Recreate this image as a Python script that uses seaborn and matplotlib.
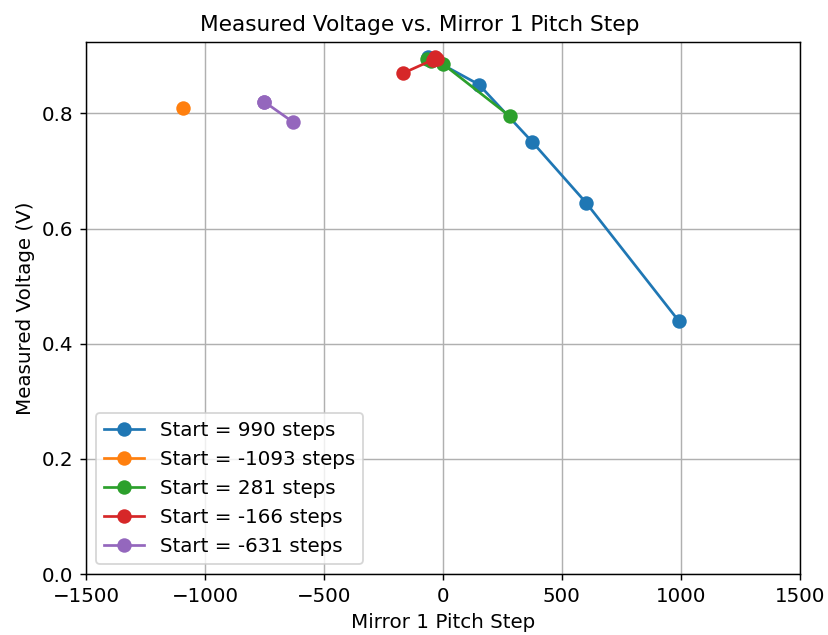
import matplotlib
matplotlib.use("Agg")
import matplotlib.pyplot as plt
import seaborn as sns
import pandas as pd

labels = ["Start = 990 steps", "Start = -1093 steps", "Start = 281 steps",
          "Start = -166 steps", "Start = -631 steps"]
x_990 = [990, 601, 376, 151, -62]
y_990 = [0.440, 0.645, 0.750, 0.850, 0.898]
x_m1093 = [-1093]
y_m1093 = [0.810]
x_281 = [281, 2, -50, -66]
y_281 = [0.795, 0.885, 0.890, 0.895]
x_m166 = [-166, -42, -32, -24]
y_m166 = [0.870, 0.893, 0.898, 0.895]
x_m631 = [-631, -751, -751]
y_m631 = [0.785, 0.820, 0.820]

series = [(x_990, y_990), (x_m1093, y_m1093), (x_281, y_281),
          (x_m166, y_m166), (x_m631, y_m631)]
rows = []
for lab, (xs, ys) in zip(labels, series):
    for i, (a, b) in enumerate(zip(xs, ys)):
        rows.append({"step": a, "volt": b, "series": lab, "order": i})
df = pd.DataFrame(rows)

plt.rcParams['font.family'] = ['DejaVu Sans']
plt.rcParams['font.size'] = 11
fig = plt.figure(figsize=(828/130, 635/130), dpi=130)
ax = fig.add_axes([0.104, 0.096, 0.862, 0.838])
colors = ["#1f77b4", "#ff7f0e", "#2ca02c", "#d62728", "#9467bd"]
for lab, c in zip(labels, colors):
    d = df[df.series == lab]
    sns.lineplot(data=d, x="step", y="volt", ax=ax, color=c, marker="o",
                 markersize=8, markeredgewidth=0, linewidth=1.5, sort=False,
                 estimator=None, label=lab)
ax.set_xlim(-1500, 1500)
ax.set_ylim(0, 0.924)
ax.set_xticks([-1500, -1000, -500, 0, 500, 1000, 1500])
ax.set_yticks([0.0, 0.2, 0.4, 0.6, 0.8])
ax.tick_params(labelsize=11)
ax.grid(True, color="#b0b0b0", linewidth=0.8)
ax.set_axisbelow(True)
ax.set_xlabel("Mirror 1 Pitch Step", fontsize=11)
ax.set_ylabel("Measured Voltage (V)", fontsize=11)
ax.set_title("Measured Voltage vs. Mirror 1 Pitch Step", fontsize=12, x=0.468)
ax.legend(loc="lower left", fontsize=11)
fig.savefig("out.png", dpi=130)
